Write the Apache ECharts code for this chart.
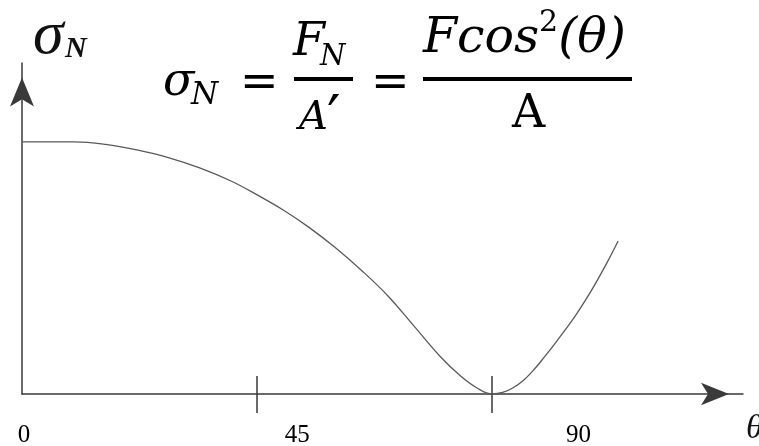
<!DOCTYPE html>
<html>
<head>
<meta charset="utf-8">
<script src="https://cdn.jsdelivr.net/npm/echarts@6/dist/echarts.min.js"></script>
<style>
  html, body { margin: 0; padding: 0; background: #fff; }
  #chart { width: 759px; height: 446px; }
</style>
</head>
<body>
<div id="chart"></div>
<script>
// 곡선 데이터 (theta 각도, sigma_N 상대값)
const thetaDeg = [0, 10, 16, 22, 28, 34, 40, 45, 50, 55, 60, 65, 70, 75, 80, 84, 87, 90, 92, 94, 96, 98, 100, 102, 104, 106, 108, 110, 112, 114.1];
const sigmaVals = [1.0, 1.0, 0.99, 0.968, 0.938, 0.897, 0.845, 0.79, 0.73, 0.66, 0.58, 0.49, 0.39, 0.27, 0.15, 0.07, 0.025, 0.0, 0.006, 0.025, 0.055, 0.097, 0.147, 0.2, 0.255, 0.313, 0.377, 0.447, 0.522, 0.607];

// 눈금 위치와 라벨 (라벨은 원본처럼 눈금과 어긋나 있음)
const tickValues = [45, 90];
const tickLabels = ['0', '45', '90'];
const labelValues = [0.4, 52.7, 106.5];

const xMax = 138;
const yMax = 1.313;

const chartDom = document.getElementById('chart');
let chart = echarts.init(chartDom);

const axisColor = '#3a3a3a';
const mathFont = 'DejaVu Serif';

let option = {
    backgroundColor: '#fff',
    animation: false,
    grid: { left: 22, right: 16, top: 63, bottom: 52, containLabel: false, outerBoundsMode: 'none' },
    xAxis: [
        {
            type: 'value',
            min: 0,
            max: xMax,
            position: 'bottom',
            axisLine: {
                show: true,
                symbol: ['none', 'arrow'],
                symbolSize: [17, 28],
                symbolOffset: [0, -14],
                lineStyle: { color: axisColor, width: 1.5 }
            },
            axisTick: {
                show: true,
                customValues: tickValues,
                inside: false,
                length: 19,
                lineStyle: { color: axisColor, width: 1.5 }
            },
            axisLabel: {
                show: true,
                customValues: labelValues,
                margin: 29,
                fontFamily: 'Liberation Serif',
                fontSize: 25,
                color: '#000',
                formatter: function (value) {
                    const i = labelValues.indexOf(value);
                    return i >= 0 ? tickLabels[i] : '';
                }
            },
            splitLine: { show: false }
        },
        {
            type: 'value',
            min: 0,
            max: xMax,
            position: 'bottom',
            axisLine: { show: false },
            axisTick: {
                show: true,
                customValues: tickValues,
                inside: true,
                length: 18,
                lineStyle: { color: axisColor, width: 1.5 }
            },
            axisLabel: { show: false },
            splitLine: { show: false }
        }
    ],
    yAxis: {
        type: 'value',
        min: 0,
        max: yMax,
        axisLine: {
            show: true,
            symbol: ['none', 'arrow'],
            symbolSize: [18, 29],
            symbolOffset: [0, -14.5],
            lineStyle: { color: axisColor, width: 1.5 }
        },
        axisTick: { show: false },
        axisLabel: { show: false },
        splitLine: { show: false }
    },
    series: [
        {
            type: 'line',
            xAxisIndex: 0,
            smooth: 0.4,
            showSymbol: false,
            lineStyle: { color: '#5a5a5a', width: 1.3 },
            data: thetaDeg.map((t, i) => [t, sigmaVals[i]])
        }
    ],
    graphic: [
        // 축 이름: sigma_N, theta
        { type: 'text', left: 33, top: 6, style: { text: 'σ', font: 'italic 62px "Liberation Serif"', fill: '#111' } },
        { type: 'text', left: 65, top: 34, style: { text: 'N', font: 'italic bold 30px "Liberation Serif"', fill: '#111' } },
        { type: 'text', left: 746, top: 412, style: { text: 'θ', font: 'italic 34px "Liberation Serif"', fill: '#111' } },
        // 수식 σN = FN/A' = Fcos²(θ)/A
        { type: 'text', left: 163, top: 60, style: { text: 'σ', font: 'italic 46px "' + mathFont + '"', fill: '#000' } },
        { type: 'text', left: 191, top: 80, style: { text: 'N', font: 'italic 31px "' + mathFont + '"', fill: '#000' } },
        { type: 'text', left: 240, top: 61, style: { text: '=', font: '46px "' + mathFont + '"', fill: '#000' } },
        { type: 'text', left: 293, top: 20, style: { text: 'F', font: 'italic 46px "' + mathFont + '"', fill: '#000' } },
        { type: 'text', left: 320, top: 43, style: { text: 'N', font: 'italic 29px "' + mathFont + '"', fill: '#000' } },
        { type: 'rect', shape: { x: 294, y: 77, width: 59, height: 4 }, style: { fill: '#000' } },
        { type: 'text', left: 299, top: 99, style: { text: 'A', font: 'italic 40px "' + mathFont + '"', fill: '#000' } },
        { type: 'text', left: 327, top: 92, style: { text: '′', font: '60px "' + mathFont + '"', fill: '#000' } },
        { type: 'text', left: 371, top: 61, style: { text: '=', font: '46px "' + mathFont + '"', fill: '#000' } },
        {
            type: 'text', left: 423, top: 8,
            style: {
                text: '{a|Fcos}{s|2}{a|(θ)}',
                rich: {
                    a: { fontFamily: mathFont, fontStyle: 'italic', fontSize: 49, verticalAlign: 'bottom', lineHeight: 56, fill: '#000' },
                    s: { fontFamily: mathFont, fontSize: 30, verticalAlign: 'top', lineHeight: 56, fill: '#000' }
                }
            }
        },
        { type: 'rect', shape: { x: 423, y: 77, width: 209, height: 4 }, style: { fill: '#000' } },
        { type: 'text', left: 512, top: 92, style: { text: 'A', font: '46px "' + mathFont + '"', fill: '#000' } }
    ]
};

chart.setOption(option);
</script>
</body>
</html>
